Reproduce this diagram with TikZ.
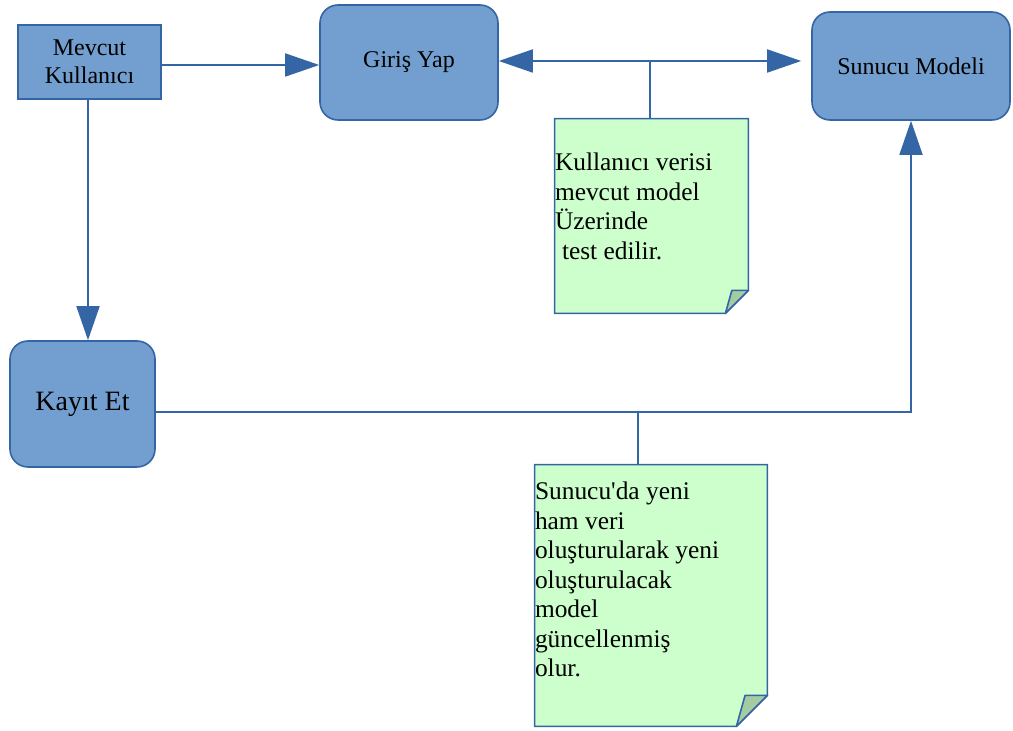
\documentclass[tikz,border=0pt]{standalone}
\usepackage{fontspec}
\setmainfont{Liberation Serif}[Ligatures=TeXOff]
\usetikzlibrary{arrows.meta, positioning}

\definecolor{boxblue}{HTML}{729FCF}
\definecolor{lineblue}{HTML}{3465A4}
\definecolor{notegreen}{HTML}{CCFFCC}
\definecolor{foldgreen}{RGB}{163,204,163}

\begin{document}
\begin{tikzpicture}[
    x=0.5pt, y=-0.5pt,
    box/.style={rectangle, draw=lineblue, fill=boxblue, line width=0.8pt, inner sep=0pt, align=center, font=\fontsize{12}{14}\selectfont},
    rbox/.style={box, rounded corners=9pt},
    note/.style={rectangle, draw=none, inner sep=0pt},
    notetext/.style={inner sep=0pt, align=left, anchor=north west, font=\fontsize{12.7}{14.75}\selectfont},
    noteline/.style={draw=lineblue, fill=notegreen, line width=0.8pt, line join=round},
    fold/.style={draw=lineblue, fill=foldgreen, line width=0.8pt, line join=round},
    line/.style={draw=lineblue, line width=0.9pt},
    arrow/.style={line, -{Triangle[length=17pt, width=11.5pt]}}
]
\useasboundingbox (0,0) rectangle (1013,731);

% Nodes
\node (mevcut) [box, minimum width=71.5pt, minimum height=37pt] at (89.5,62) {Mevcut\\Kullanıcı};
\node (giris) [rbox, minimum width=89pt, minimum height=57.5pt] at (409,62.5) {Giriş Yap};
\node (sunucu) [rbox, minimum width=99pt, minimum height=54pt] at (911,66) {Sunucu Modeli};
\node (kayit) [rbox, minimum width=72.5pt, minimum height=63pt, font=\fontsize{14}{16}\selectfont] at (82.5,404) {Kayıt Et};

\node (note1) [note, minimum width=96.5pt, minimum height=97pt] at (651.5,216) {};
\node (note2) [note, minimum width=116pt, minimum height=130.5pt] at (651,595.5) {};

% Note outlines with folded corner
\foreach \n/\f in {note1/11.5pt, note2/15.5pt} {
    \draw [noteline] (\n.north west) -- (\n.north east) -- ([yshift=\f]\n.south east)
        -- ([xshift=-\f]\n.south east) -- (\n.south west) -- cycle;
    \draw [fold] ([yshift=\f]\n.south east) -- ([shift={(-0.72*\f,\f)}]\n.south east)
        -- ([xshift=-\f]\n.south east) -- cycle;
}

\node (note1txt) [notetext] at ([yshift=-17pt]note1.north west) {Kullanıcı verisi\\mevcut model\\Üzerinde\\\hspace{3.5pt}test edilir.};
\node (note2txt) [notetext] at ([yshift=-8.5pt]note2.north west) {Sunucu'da yeni\\ham veri\\oluşturularak yeni\\oluşturulacak\\model\\güncellenmiş\\olur.};

% Coordinates
\coordinate (m1) at ([yshift=-1.5pt]mevcut.east);
\coordinate (m2) at ([xshift=-0.75pt]mevcut.south);
\coordinate (gs) at (650,61);
\coordinate (ks) at ([yshift=-4pt]kayit.east);
\coordinate (n2) at ([xshift=-6.5pt]note2.north);

% Arrows
\draw [arrow] (m1) -- (m1 -| giris.west);
\draw [arrow] (m2) -- (m2 |- kayit.north);
\draw [arrow] (gs) -- (gs -| giris.east);
\draw [arrow, shorten >=5pt] (gs) -- (gs -| sunucu.west);
\draw [line] (gs) -- (gs |- note1.north);
\draw [arrow] (ks) -| (sunucu.south);
\draw [line] (n2) -- (n2 |- ks);

\end{tikzpicture}
\end{document}
